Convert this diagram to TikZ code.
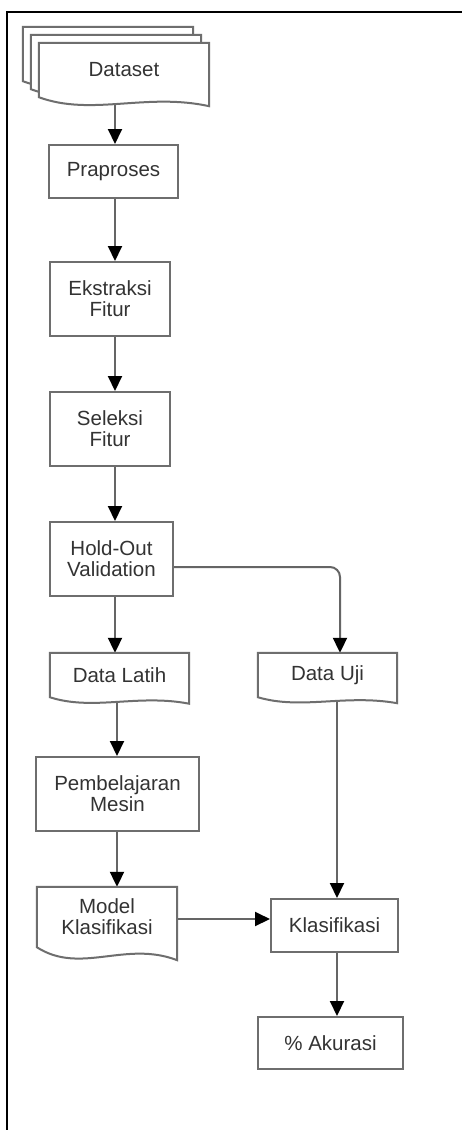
\documentclass[tikz,border=0pt]{standalone}
\usepackage{fontspec}
\setmainfont{Liberation Sans}
\usetikzlibrary{arrows.meta,calc}
\pgfdeclarelayer{paper}
\pgfdeclarelayer{conn}
\pgfdeclarelayer{docs}
\pgfsetlayers{paper,conn,docs,main}
\definecolor{edgecol}{HTML}{656565}
\definecolor{bordercol}{HTML}{6E6E6E}
\definecolor{txtcol}{HTML}{333333}
\tikzset{
  base/.style={inner sep=0pt, align=center, text=txtcol, font=\fontsize{20.5}{21}\selectfont},
  procbox/.style={base, draw=bordercol, line width=2pt, fill=white},
  docnode/.style={base},
  docbox/.style={draw=bordercol, line width=2pt, fill=white, line join=miter},
  connector/.style={draw=edgecol, line width=2pt, -{Triangle[width=14pt,length=15pt,color=black]}},
}
% node, wave depth, offset
\newcommand\docpath[3]{%
  \path[docbox] let \p1=(#1.south west), \p2=(#1.north east), \n1={\x2-\x1} in
  (\x1-#3,\y1+#3) -- (\x1-#3,\y2+#3) -- (\x2-#3,\y2+#3) -- (\x2-#3,\y1+#3-#2)
  .. controls (\x1-#3+0.63*\n1, \y1+#3+0.54*#2) and (\x1-#3+0.31*\n1, \y1+#3-2.15*#2) .. (\x1-#3,\y1+#3) -- cycle;}
\begin{document}
\begin{tikzpicture}[x=1pt,y=-1pt]
\useasboundingbox (0,0) rectangle (461,1130);
\begin{pgfonlayer}{paper}
  \fill[white] (0,0) rectangle (461,1130);
\end{pgfonlayer}
% frame
\draw[line width=2.2pt] (7,1131) -- (7,12) -- (462,12);

% column coordinates
\coordinate (colA) at (115,0);
\coordinate (colB) at (117,0);
\coordinate (colC) at (340,0);
\coordinate (colD) at (337,0);
\coordinate (rowM) at (0,919);

% nodes
\node[docnode, minimum width=170pt, minimum height=54pt] (ds) at (124,70) {Dataset};
\node[procbox, minimum width=129pt, minimum height=53pt] (pp) at (113.5,171.5) {Praproses};
\node[procbox, minimum width=120pt, minimum height=74pt] (ef) at (110,299) {Ekstraksi\\Fitur};
\node[procbox, minimum width=120pt, minimum height=74pt] (sf) at (110,429) {Seleksi\\Fitur};
\node[procbox, minimum width=123pt, minimum height=74pt] (ho) at (111.5,559) {Hold-Out\\Validation};
\node[docnode, minimum width=139pt, minimum height=44pt] (dl) at (119.5,675) {Data Latih};
\node[docnode, minimum width=139pt, minimum height=44pt] (du) at (327.5,675) {Data Uji};
\node[procbox, minimum width=163pt, minimum height=74pt] (pm) at (117.5,794) {Pembelajaran\\Mesin};
\node[docnode, minimum width=140pt, minimum height=60pt] (md) at (107,917) {Model\\Klasifikasi};
\node[procbox, minimum width=127pt, minimum height=53pt] (kl) at (334.5,925.5) {Klasifikasi};
\node[procbox, minimum width=145pt, minimum height=52pt] (ak) at (330.5,1043) {\% Akurasi};

% document shapes
\begin{pgfonlayer}{docs}
  \docpath{ds}{9}{16}
  \docpath{ds}{9}{8}
  \docpath{ds}{9}{0}
  \docpath{dl}{6.5}{0}
  \docpath{du}{6}{0}
  \docpath{md}{13}{0}
\end{pgfonlayer}

% connectors
\begin{pgfonlayer}{conn}
  \draw[connector] (ds.south -| colA) -- (pp.north -| colA);
  \draw[connector] (pp.south -| colA) -- (ef.north -| colA);
  \draw[connector] (ef.south -| colA) -- (sf.north -| colA);
  \draw[connector] (sf.south -| colA) -- (ho.north -| colA);
  \draw[connector] (ho.south -| colA) -- (dl.north -| colA);
  \draw[connector, rounded corners=10pt] ([yshift=-8pt]ho.east) -| (du.north -| colC);
  \draw[connector] (dl.south -| colB) -- (pm.north -| colB);
  \draw[connector] (pm.south -| colB) -- (md.north -| colB);
  \draw[connector] (du.south -| colD) -- (kl.north -| colD);
  \draw[connector] (md.east |- rowM) -- (kl.west |- rowM);
  \draw[connector] (kl.south -| colD) -- (ak.north -| colD);
\end{pgfonlayer}
\end{tikzpicture}
\end{document}
